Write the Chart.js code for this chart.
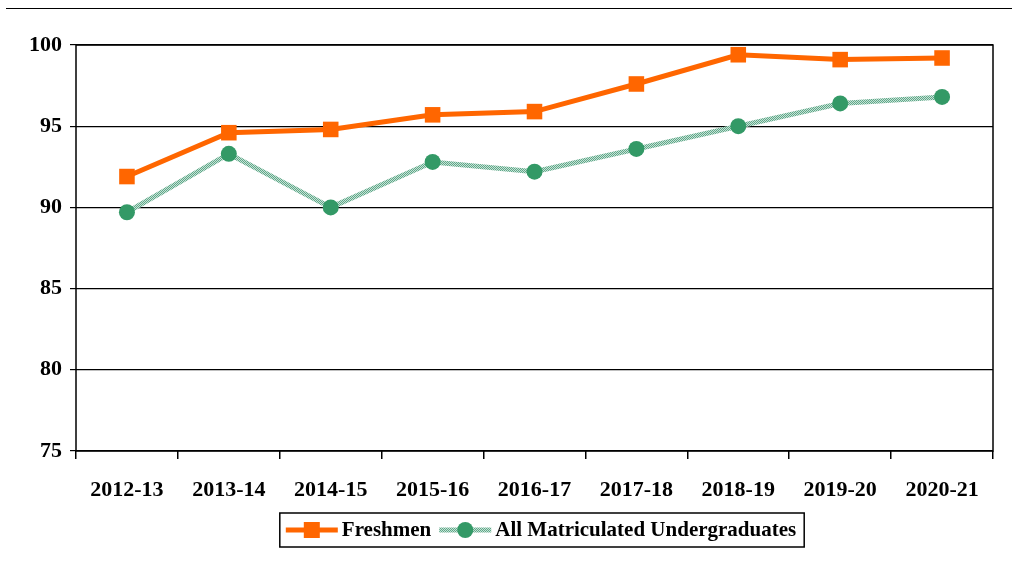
<!DOCTYPE html>
<html>
<head>
<meta charset="utf-8">
<script src="https://cdn.jsdelivr.net/npm/chart.js@4"></script>
<style>
  html, body { margin: 0; padding: 0; background: #fff; }
  #wrap { width: 1012px; height: 563px; }
</style>
</head>
<body>
<div id="wrap"><canvas id="rateChart" width="1012" height="563"></canvas></div>
<script>
// Años académicos y tasas (%)
const years = ["2012-13", "2013-14", "2014-15", "2015-16", "2016-17", "2017-18", "2018-19", "2019-20", "2020-21"];
const freshmen = [91.9, 94.6, 94.8, 95.7, 95.9, 97.6, 99.4, 99.1, 99.2];
const allUndergrads = [89.7, 93.3, 90.0, 92.8, 92.2, 93.6, 95.0, 96.4, 96.8];
const seriesNames = ["Freshmen", "All Matriculated Undergraduates"];

const FONT = '"Liberation Serif", "Times New Roman", serif';
const ORANGE = '#ff6600';
const GREEN = '#339966';

// patrón punteado para la línea verde
function hatch() {
    const c = document.createElement('canvas');
    c.width = 2; c.height = 2;
    const g = c.getContext('2d');
    g.fillStyle = '#c8e2d5';
    g.fillRect(0, 0, 2, 2);
    g.fillStyle = '#5ea88a';
    g.fillRect(0, 0, 1, 1);
    g.fillRect(1, 1, 1, 1);
    return g.createPattern(c, 'repeat');
}
const greenLine = hatch();

const frame = {
    id: 'frame',
    beforeDraw(chart) {
        const ctx = chart.ctx;
        ctx.save();
        ctx.strokeStyle = '#000';
        ctx.lineWidth = 1;
        ctx.beginPath();
        ctx.moveTo(6, 8.5);
        ctx.lineTo(1012, 8.5);
        ctx.stroke();
        ctx.restore();
    },
    afterDatasetsDraw(chart) {
        const a = chart.chartArea;
        const ctx = chart.ctx;
        ctx.save();
        ctx.strokeStyle = '#000';
        ctx.lineWidth = 1.5;
        ctx.strokeRect(a.left, a.top, a.right - a.left, a.bottom - a.top);
        ctx.restore();
    },
    afterDraw(chart) {
        // leyenda con línea + marcador
        const ctx = chart.ctx;
        ctx.save();
        ctx.font = 'bold 21px ' + FONT;
        ctx.textBaseline = 'middle';
        const symW = 52, gap = 4, between = 8;
        const w0 = ctx.measureText(seriesNames[0]).width;
        const w1 = ctx.measureText(seriesNames[1]).width;
        const total = symW + gap + w0 + between + symW + gap + w1;
        const boxW = total + 14;
        const cx = 542, cy = 530;
        const bx = cx - boxW / 2;
        ctx.strokeStyle = '#000';
        ctx.lineWidth = 1.5;
        ctx.strokeRect(bx, 513, boxW, 34);
        let x = bx + 6;
        // Freshmen
        ctx.strokeStyle = ORANGE;
        ctx.lineWidth = 5;
        ctx.beginPath(); ctx.moveTo(x, cy); ctx.lineTo(x + symW, cy); ctx.stroke();
        ctx.fillStyle = ORANGE;
        ctx.fillRect(x + symW / 2 - 8, cy - 8, 16, 16);
        x += symW + gap;
        ctx.fillStyle = '#000';
        ctx.fillText(seriesNames[0], x, cy + 1);
        x += w0 + between;
        // All Matriculated
        ctx.strokeStyle = greenLine;
        ctx.beginPath(); ctx.moveTo(x, cy); ctx.lineTo(x + symW, cy); ctx.stroke();
        ctx.fillStyle = GREEN;
        ctx.beginPath(); ctx.arc(x + symW / 2, cy, 8, 0, Math.PI * 2); ctx.fill();
        x += symW + gap;
        ctx.fillStyle = '#000';
        ctx.fillText(seriesNames[1], x, cy + 1);
        ctx.restore();
    }
};

const ctx = document.getElementById('rateChart').getContext('2d');
const rateChart = new Chart(ctx, {
    type: 'line',
    data: {
        labels: years,
        datasets: [{
            label: seriesNames[0],
            data: freshmen,
            borderColor: ORANGE,
            backgroundColor: ORANGE,
            borderWidth: 5,
            pointStyle: 'rect',
            pointRadius: 11,
            pointBorderWidth: 0,
            tension: 0
        }, {
            label: seriesNames[1],
            data: allUndergrads,
            borderColor: greenLine,
            backgroundColor: GREEN,
            pointBackgroundColor: GREEN,
            pointBorderColor: GREEN,
            borderWidth: 5,
            pointStyle: 'circle',
            pointRadius: 8,
            pointBorderWidth: 0,
            tension: 0
        }]
    },
    options: {
        responsive: false,
        animation: false,
        layout: { padding: { top: 45, right: 19, bottom: 52, left: 0 } },
        plugins: {
            legend: { display: false },
            tooltip: { enabled: false }
        },
        scales: {
            x: {
                offset: true,
                grid: { offset: true, drawOnChartArea: false, color: '#000', tickLength: 8, lineWidth: 1.5 },
                border: { display: false },
                ticks: { color: '#000', font: { family: FONT, size: 22, weight: 'bold' }, padding: 18, maxRotation: 0 },
                afterFit(s) { s.height = 60; }
            },
            y: {
                min: 75,
                max: 100,
                ticks: { stepSize: 5, color: '#000', font: { family: FONT, size: 22, weight: 'bold' }, padding: 8 },
                grid: { color: '#000', tickLength: 6, lineWidth: 1.2 },
                border: { display: false },
                afterFit(s) { s.width = 76; }
            }
        }
    },
    plugins: [frame]
});
</script>
</body>
</html>
